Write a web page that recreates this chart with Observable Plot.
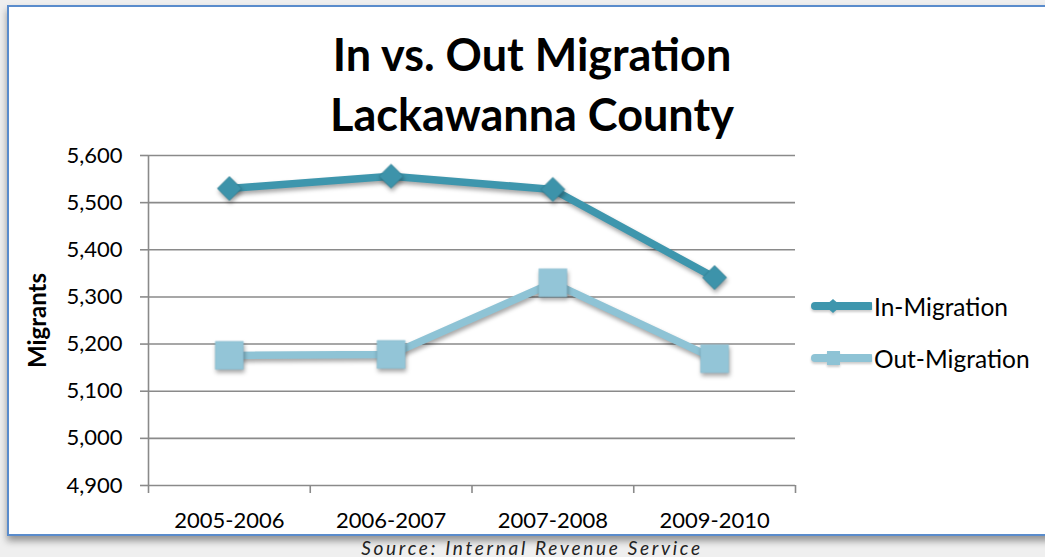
<!DOCTYPE html>
<html><head><meta charset="utf-8">
<script src="https://cdn.jsdelivr.net/npm/d3@7"></script>
<script src="https://cdn.jsdelivr.net/npm/@observablehq/plot@0.6"></script>
<style>
html,body{margin:0;padding:0;}
body{background:#efefef;width:1045px;height:557px;overflow:hidden;position:relative;font-family:Lato,"Open Sans",sans-serif;color:#000;}
#frame{position:absolute;left:7px;top:5px;width:1060px;height:527px;background:#fff;border:2px solid #5a8ccc;box-shadow:0 5px 7px rgba(0,0,0,0.38);}
#title{position:absolute;left:0;width:1046px;top:17px;text-align:center;font-weight:bold;font-size:45px;line-height:60px;}
#chart{position:absolute;left:0;top:120px;}
#legend{position:absolute;left:791px;top:273px;font-size:24.5px;}
.item{display:flex;align-items:center;height:52px;}
.item svg{margin-right:2px;filter:drop-shadow(0px 2px 1px rgba(0,0,0,0.2));}
#caption{position:absolute;left:0;width:1064px;top:536px;text-align:center;font-style:italic;font-size:19px;letter-spacing:2.7px;color:#222;}
svg g[aria-label="line"], svg g[aria-label="dot"]{filter:drop-shadow(1px 3px 2px rgba(0,0,0,0.35));}
</style>
</head><body>
<div id="frame">
  <div id="title">In vs. Out Migration<br>Lackawanna County</div>
  <div id="chart"></div>
  <div id="legend"></div>
</div>
<div id="caption">Source: Internal Revenue Service</div>
<script>
const categories = ["2005-2006", "2006-2007", "2007-2008", "2009-2010"];
const inMigration = [5530, 5556, 5528, 5341];
const outMigration = [5176, 5178, 5330, 5169];
const seriesNames = ["In-Migration", "Out-Migration"];
const seriesColors = ["#3e96ad", "#8ec3d5"];
const yTicks = [4900, 5000, 5100, 5200, 5300, 5400, 5500, 5600];

const rows = (vals, s) => vals.map((v, i) => ({cat: categories[i], x: i + 0.5, v, series: s}));
const inRows = rows(inMigration, seriesNames[0]);
const outRows = rows(outMigration, seriesNames[1]);

const chart = Plot.plot({
  width: 796,
  height: 410,
  marginLeft: 139,
  marginRight: 10,
  marginTop: 28,
  marginBottom: 52,
  style: {fontFamily: "Lato, 'Open Sans', sans-serif", color: "#000", background: "transparent", overflow: "visible"},
  x: {type: "linear", domain: [0, categories.length]},
  y: {domain: [4900, 5600]},
  marks: [
    Plot.gridY(yTicks, {stroke: "#8a8a8a", strokeOpacity: 1, strokeWidth: 1.6}),
    Plot.axisY({ticks: yTicks, tickFormat: d3.format(","), tickSize: 8, tickPadding: 18, fontSize: 22, stroke: "#8a8a8a", strokeWidth: 1.6, fill: "#000", label: null}),
    Plot.axisX({ticks: d3.range(categories.length + 1), tickFormat: () => "", tickSize: 8, stroke: "#8a8a8a", strokeWidth: 1.6, label: null}),
    Plot.axisX({ticks: categories.map((c, i) => i + 0.5), tickFormat: d => categories[Math.floor(d)], tickSize: 0, tickPadding: 27, fontSize: 22, fill: "#000", label: null}),
    Plot.ruleX([0], {stroke: "#8a8a8a", strokeWidth: 1.6}),
    Plot.text(["Migrants"], {frameAnchor: "left", textAnchor: "middle", dx: -110, rotate: -90, fontSize: 24, fontWeight: "bold", fill: "#000"}),
    Plot.line(inRows, {x: "x", y: "v", stroke: seriesColors[0], strokeWidth: 7.5}),
    Plot.line(outRows, {x: "x", y: "v", stroke: seriesColors[1], strokeWidth: 7.5}),
    Plot.dot(inRows, {x: "x", y: "v", symbol: "diamond2", r: 10.8, fill: "#3d93aa", stroke: "#2f7f94", strokeWidth: 0.8}),
    Plot.dot(outRows, {x: "x", y: "v", symbol: "square", r: 15.8, fill: "#93c5d7", stroke: "#86bcd0", strokeWidth: 0.5})
  ]
});
document.getElementById("chart").appendChild(chart);

const legend = document.getElementById("legend");
const markerFor = (i, c) => i === 0
  ? `<path d="M33,3 L41,10 L33,17 L25,10 Z" fill="${c}"/>`
  : `<rect x="27" y="3" width="13" height="14" fill="${c}"/>`;
seriesNames.forEach((name, i) => {
  const d = document.createElement("div");
  d.className = "item";
  d.innerHTML = `<svg width="72" height="20"><line x1="15" y1="10" x2="70" y2="10" stroke="${seriesColors[i]}" stroke-width="8" stroke-linecap="round"/>${markerFor(i, seriesColors[i])}</svg><span>${name}</span>`;
  legend.appendChild(d);
});
</script>
</body></html>
